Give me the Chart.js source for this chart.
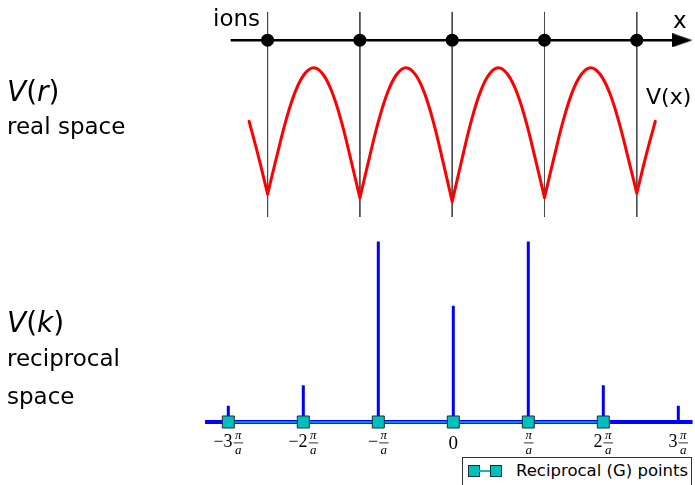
<!DOCTYPE html>
<html>
<head>
<meta charset="utf-8">
<script src="https://cdn.jsdelivr.net/npm/chart.js@4.4.0/dist/chart.umd.min.js"></script>
<style>
body{margin:0;background:#fff;}
#wrap{position:relative;width:695px;height:485px;overflow:hidden;font-family:"DejaVu Sans";color:#000;}
#c{position:absolute;left:0;top:0;}
.lab{position:absolute;left:7px;white-space:nowrap;}
.big{font-size:28px;line-height:28px;}
.small{font-size:23px;line-height:23px;}
#legend{position:absolute;left:462px;top:457px;width:230px;height:40px;border:1px solid #333;background:#fff;box-sizing:border-box;}
#legend .sq{position:absolute;top:7px;width:12px;height:12px;background:#00bfbf;border:1px solid #1a2f2f;box-sizing:border-box;}
#legend .ln{position:absolute;left:16px;top:12px;width:12px;height:1.5px;background:#00bfbf;}
#legend .lt{position:absolute;left:53px;top:5px;font-size:16.5px;line-height:16.5px;white-space:nowrap;}
</style>
</head>
<body>
<div id="wrap">
<canvas id="c" width="695" height="485"></canvas>
<div class="lab big" style="top:78px"><i>V</i>(<i>r</i>)</div>
<div class="lab small" style="top:115px">real space</div>
<div class="lab big" style="top:309px"><i>V</i>(<i>k</i>)</div>
<div class="lab small" style="top:347px">reciprocal</div>
<div class="lab small" style="top:385px">space</div>
<div id="legend"><span class="sq" style="left:5px"></span><span class="ln"></span><span class="sq" style="left:27px"></span><span class="lt">Reciprocal (G) points</span></div>
</div>
<script>
// ion positions (units of a)
var ionX = [-2, -1, 0, 1, 2];
// V(x)
var curveX = [-2.2,-2.1,-2.0,-1.9,-1.8,-1.7,-1.6,-1.5,-1.4,-1.3,-1.2,-1.1,-1.0,
              -0.9,-0.8,-0.7,-0.6,-0.5,-0.4,-0.3,-0.2,-0.1,0.0,
              0.1,0.2,0.3,0.4,0.5,0.6,0.7,0.8,0.9,1.0,
              1.1,1.2,1.3,1.4,1.5,1.6,1.7,1.8,1.9,2.0,2.1,2.2];
var curveV = [-0.40,-0.66,-0.943,-0.66,-0.391,-0.179,-0.047,0,-0.049,-0.185,-0.403,-0.68,-0.972,
              -0.68,-0.403,-0.185,-0.049,0,-0.05,-0.19,-0.415,-0.70,-1.0,
              -0.70,-0.415,-0.19,-0.05,0,-0.049,-0.184,-0.403,-0.679,-0.970,
              -0.679,-0.403,-0.184,-0.049,0,-0.047,-0.178,-0.389,-0.656,-0.937,-0.656,-0.40];
// reciprocal space (units of pi/a)
var gPoints = [-3, -2, -1, 0, 1, 2];
var spikeK = [-3, -2, -1, 0, 1, 2, 3];
var spikeH = [0.09, 0.203, 1.0, 0.644, 1.0, 0.203, 0.09];
var tickVals = [-3, -2, -1, 0, 1, 2, 3];
var tickPrefix = ['\u22123', '\u22122', '\u2212', '0', '', '2', '3'];
var tickFrac = [true, true, true, false, true, true, true];

var axisY = 0.205;

// curve split into arches so the cusps stay sharp
var curveData = [];
for (var i = 0; i < curveX.length; i++) {
	curveData.push({x: curveX[i], y: curveV[i]});
	if (ionX.indexOf(curveX[i]) >= 0 && i > 0 && i < curveX.length - 1) {
		curveData.push({x: curveX[i], y: null});
		curveData.push({x: curveX[i], y: curveV[i]});
	}
}
var vlineData = [];
ionX.forEach(function(x){
	vlineData.push({x: x, y: 0.416}, {x: x, y: -1.114}, {x: x, y: null});
});
var ionData = ionX.map(function(x){ return {x: x, y: axisY}; });
var spikeData = [];
spikeK.forEach(function(k, i){
	spikeData.push({x: k, y: 0}, {x: k, y: spikeH[i]}, {x: k, y: null});
});
var gData = gPoints.map(function(k){ return {x: k, y: 0}; });

// arrow head used as a point style
var arrow = document.createElement('canvas');
arrow.width = 20; arrow.height = 14;
var actx = arrow.getContext('2d');
actx.fillStyle = '#000';
actx.beginPath(); actx.moveTo(0, 0); actx.lineTo(20, 7); actx.lineTo(0, 14); actx.closePath(); actx.fill();

var labelPlugin = {
	id: 'labels',
	afterDraw: function(chart){
		var ctx = chart.ctx;
		var xk = chart.scales.xk, yk = chart.scales.yk;
		ctx.save();
		ctx.fillStyle = '#000';
		ctx.textBaseline = 'alphabetic';
		ctx.font = '23px "DejaVu Sans"';
		ctx.textAlign = 'left';
		ctx.fillText('ions', 213, 26);
		ctx.fillText('x', 673, 28);
		ctx.font = '22px "DejaVu Sans"';
		ctx.fillText('V(x)', 646, 104);

		var base = yk.getPixelForValue(0);
		for (var i = 0; i < tickVals.length; i++) {
			var px = xk.getPixelForValue(tickVals[i]);
			ctx.font = '18px "Liberation Serif"';
			var pw = ctx.measureText(tickPrefix[i]).width;
			if (!tickFrac[i]) {
				ctx.textAlign = 'center';
				ctx.font = '19px "Liberation Serif"';
				ctx.fillText(tickPrefix[i], px, base + 27);
				continue;
			}
			ctx.font = 'italic 13px "Liberation Serif"';
			var fw = Math.max(ctx.measureText('\u03c0').width, ctx.measureText('a').width) + 3;
			var start = px - (pw + fw + 1) / 2;
			ctx.textAlign = 'left';
			ctx.font = '18px "Liberation Serif"';
			ctx.fillText(tickPrefix[i], start, base + 25);
			var cx = start + pw + 1 + fw / 2;
			ctx.textAlign = 'center';
			ctx.font = 'italic 13px "Liberation Serif"';
			ctx.fillText('\u03c0', cx, base + 17);
			ctx.fillText('a', cx, base + 32);
			ctx.fillRect(cx - fw / 2, base + 20.5, fw, 0.8);
		}
		ctx.restore();
	}
};

var config = {
	type: 'line',
	data: {
		datasets: [
			{xAxisID: 'xr', yAxisID: 'yr', data: ionData, showLine: false, pointRadius: 6.5,
				pointBackgroundColor: '#000', pointBorderColor: '#000', pointBorderWidth: 0, order: 0},
			{xAxisID: 'xr', yAxisID: 'yr', data: [{x: 2.495, y: axisY}], showLine: false, pointRadius: 10,
				pointStyle: arrow, order: 1},
			{xAxisID: 'xr', yAxisID: 'yr', data: [{x: -2.4, y: axisY}, {x: 2.5, y: axisY}],
				borderColor: '#000', borderWidth: 2.5, pointRadius: 0, order: 2},
			{xAxisID: 'xr', yAxisID: 'yr', data: curveData, borderColor: '#ff0000', borderWidth: 3,
				tension: 0.4, borderCapStyle: 'round', borderJoinStyle: 'round',
				pointRadius: 0, spanGaps: false, order: 3},
			{xAxisID: 'xr', yAxisID: 'yr', data: vlineData, borderColor: '#4a4a4a', borderWidth: 1,
				pointRadius: 0, spanGaps: false, order: 4},
			{xAxisID: 'xk', yAxisID: 'yk', data: gData, borderColor: '#00bfbf', borderWidth: 1.5,
				pointStyle: 'rect', pointRadius: 8.5, pointBackgroundColor: '#00bfbf',
				pointBorderColor: '#1a2f2f', pointBorderWidth: 1, order: 0},
			{xAxisID: 'xk', yAxisID: 'yk', data: spikeData, borderColor: '#0000ff', borderWidth: 3,
				pointRadius: 0, spanGaps: false, order: 1},
			{xAxisID: 'xk', yAxisID: 'yk', data: [{x: -3.31, y: 0}, {x: 3.19, y: 0}],
				borderColor: '#0000ff', borderWidth: 4, pointRadius: 0, order: 2}
		]
	},
	options: {
		responsive: false,
		animation: false,
		events: [],
		layout: {padding: 0, autoPadding: false},
		plugins: {legend: {display: false}, tooltip: {enabled: false}},
		scales: {
			xr: {type: 'linear', axis: 'x', position: 'top', display: false, min: -4.899, max: 2.6306},
			yr: {type: 'linear', axis: 'y', position: 'left', display: false, min: -3.114, max: 0.505},
			xk: {type: 'linear', axis: 'x', position: 'bottom', display: false, min: -6.044, max: 3.2227},
			yk: {type: 'linear', axis: 'y', position: 'right', display: false, min: -0.349, max: 2.338}
		}
	},
	plugins: [labelPlugin]
};
window.myChart = new Chart(document.getElementById('c').getContext('2d'), config);
</script>
</body>
</html>
